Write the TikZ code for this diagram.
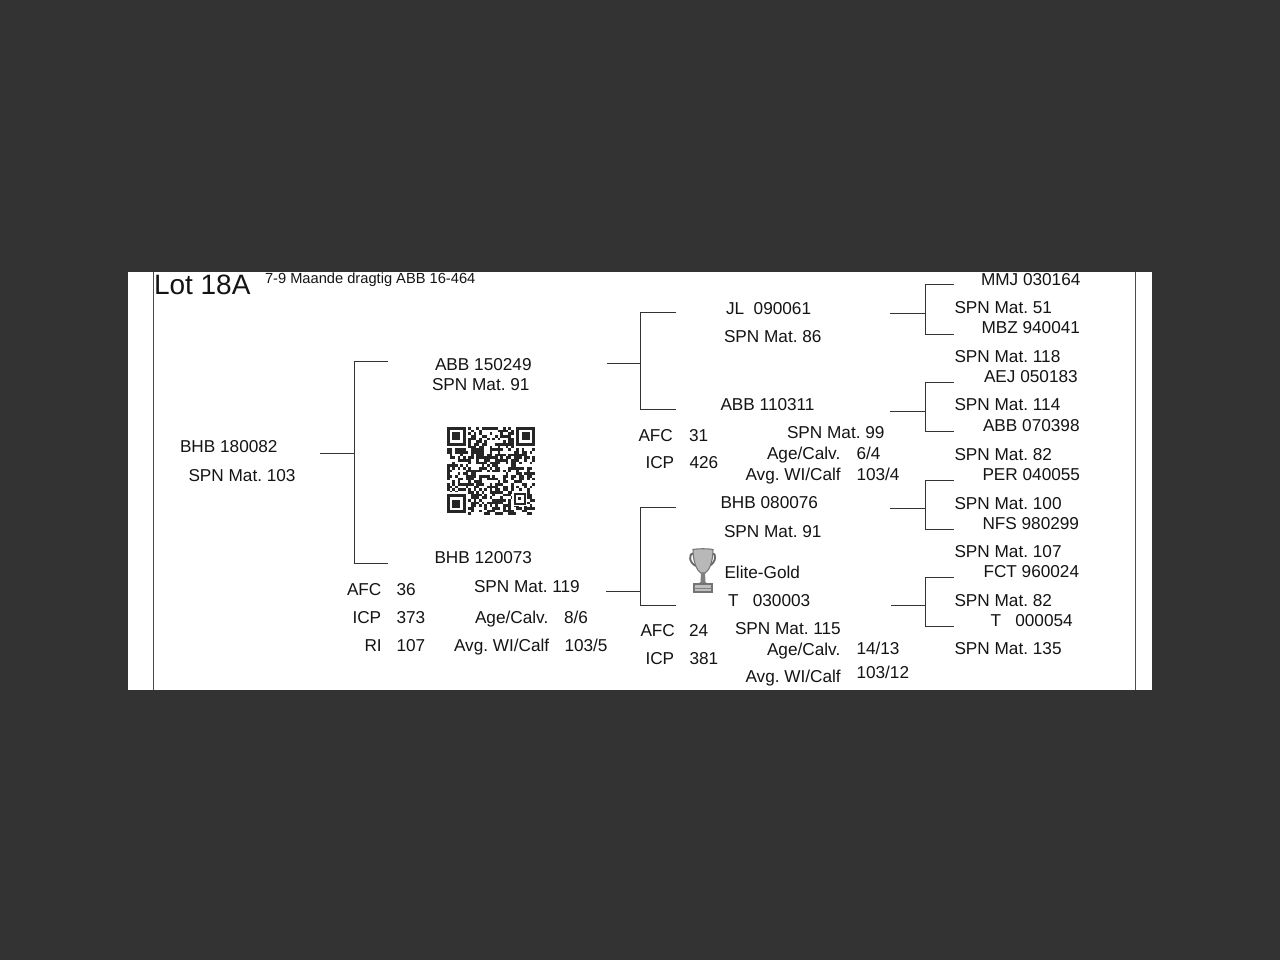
\documentclass[tikz,border=0pt]{standalone}
\usepackage{fontspec}
\setmainfont{Liberation Sans}
\newcommand{\slsh}{/}
\tikzset{
  lbl/.style={font=\fontsize{12.9}{15}\selectfont\frenchspacing,text=black!92,anchor=west,inner sep=0pt,outer sep=0pt,text height=9.3pt,text depth=0pt,yshift=0.45pt},
  conn/.style={draw=black!80,line width=0.6pt},
  edgeline/.style={draw=black!70,line width=0.6pt},
}
\newcommand{\finder}[2]{%
  \fill[white] (#1-2.7,#2-2.7) rectangle ++(24,24);
  \fill[black!85] (#1,#2) rectangle ++(18.7,18.7);
  \fill[white] (#1+2.7,#2+2.7) rectangle ++(13.3,13.3);
  \fill[black!85] (#1+5.3,#2+5.3) rectangle ++(8,8);
}
\begin{document}
\begin{tikzpicture}[x=0.75pt,y=-0.75pt]
\useasboundingbox (0,0) rectangle (1280,960);
\fill[black!80] (0,0) rectangle (1280,960);
\fill[white] (128,272) rectangle (1152,690);
\draw[edgeline] (153.6,272) -- (153.6,690);
\draw[edgeline] (1135.8,272) -- (1135.8,690);
% title
\node[lbl,font=\fontsize{21}{24}\selectfont,text height=15pt] (lot) at (154,285) {Lot 18A};
\node[lbl,font=\fontsize{11}{13}\selectfont\frenchspacing,text height=7.9pt] (note) at (265,279) {7-9 Maande dragtig ABB 16-464};
% labels
\foreach \n/\x/\y/\t in {
a1/180/447/BHB 180082, a2/188.5/475.5/SPN Mat. 103,
b1/435/364.5/ABB 150249, b2/432/384.5/SPN Mat. 91,
c1/434.5/558/BHB 120073, c2/474/586.5/SPN Mat. 119,
c3/347/589.5/AFC, c4/396.5/589.5/36, c5/352.5/617.5/ICP, c6/396.5/617.5/373, c7/364.5/646/RI, c8/396.5/646/107,
c9/475/617.5/Age\slsh Calv., c10/564/617.5/8\slsh 6, c11/454/646/Avg. WI\slsh Calf, c12/564.5/646/103\slsh 5,
d1/726/309/JL\ \ 090061, d2/724/336.5/SPN Mat. 86,
e1/720.5/405/ABB 110311, e2/787/432.5/SPN Mat. 99,
e3/638.5/435.5/AFC, e4/689/435.5/31, e5/645.5/463/ICP, e6/689.5/463/426,
e7/767/454/Age\slsh Calv., e8/856.5/454/6\slsh 4, e9/745.5/475/Avg. WI\slsh Calf, e10/856.5/475/103\slsh 4,
f1/720.5/502.5/BHB 080076, f2/724/531.5/SPN Mat. 91,
g0/724.5/572.5/Elite-Gold, g1/728/600.5/T\ \ \ 030003, g2/735/628.5/SPN Mat. 115,
g3/640.5/630.5/AFC, g4/689/630.5/24, g5/645.5/659/ICP, g6/689.5/659/381,
g7/767/649.5/Age\slsh Calv., g8/856.5/648.5/14\slsh 13, g9/745.5/677/Avg. WI\slsh Calf, g10/856.5/672.5/103\slsh 12,
h1/981/280/MMJ 030164, h2/954.5/308/SPN Mat. 51, h3/981.5/328/MBZ 940041, h4/954.5/356.5/SPN Mat. 118,
i1/984/376.5/AEJ 050183, i2/954.5/405/SPN Mat. 114, i3/983/426/ABB 070398, i4/954.5/455/SPN Mat. 82,
j1/982.5/474.5/PER 040055, j2/954.5/503.5/SPN Mat. 100, j3/982.5/524/NFS 980299, j4/954.5/552/SPN Mat. 107,
k1/983.5/572/FCT 960024, k2/954.5/600.5/SPN Mat. 82, k3/990.5/621/T\ \ \ 000054, k4/954.5/648.5/SPN Mat. 135}
{\node[lbl] (\n) at (\x,\y) {\t};}
% connector anchors
\foreach \n/\x/\y in {
A/320/453, Aj/354/453, At/354/361, Ab/354/563, Ate/388/361, Abe/388/563,
B/607/363, Bj/640.5/363, Bt/640.5/312, Bb/640.5/409, Bte/676/312, Bbe/676/409,
C/606/591, Cj/640.5/591, Ct/640.5/507, Cb/640.5/605, Cte/676/507, Cbe/676/605,
D/890/313, Dj/925.5/313, Dt/925.5/284.5, Db/925.5/334, Dte/954/284.5, Dbe/954/334,
E/890/411, Ej/925.5/411, Et/925.5/382, Eb/925.5/431, Ete/954/382, Ebe/954/431,
F/890/508, Fj/925.5/508, Ft/925.5/480, Fb/925.5/529, Fte/954/480, Fbe/954/529,
G/891/605, Gj/925.5/605, Gt/925.5/577, Gb/925.5/626, Gte/954/577, Gbe/954/626}
{\coordinate (\n) at (\x,\y);}
\foreach \p in {A,B,C,D,E,F,G}{
  \draw[conn] (\p) -- (\p j);
  \draw[conn] (\p te) -- (\p t) -- (\p b) -- (\p be);
}
% QR code
\begin{scope}
\pgfmathsetseed{18464}
\foreach \i in {0,...,32}{\foreach \j in {0,...,32}{
  \pgfmathparse{rnd<0.5?1:0}
  \ifnum\pgfmathresult=1\relax
    \fill[black!85] (447+\i*2.667,427+\j*2.667) rectangle ++(2.75,2.75);
  \fi
}}
\finder{447}{427}
\finder{516.3}{427}
\finder{447}{494.3}
\fill[white] (512,491) rectangle ++(15,15);
\fill[black!85] (513.5,492.5) rectangle ++(12,12);
\fill[white] (515.5,494.5) rectangle ++(8,8);
\fill[black!85] (518,497) rectangle ++(3,3);
\end{scope}
% trophy
\begin{scope}
\draw[black!60,line width=1.4pt] (694,553) .. controls (688,553) and (689,563) .. (696,566);
\draw[black!60,line width=1.4pt] (712,553) .. controls (717,553) and (716,563) .. (709,566);
\fill[black!28,draw=black!55,line width=0.8pt] (693,549.5) .. controls (698,548.5) and (708,548.5) .. (713,549.5) .. controls (713,562) and (709,571) .. (705,573) -- (701,573) .. controls (697,571) and (693,562) .. (693,549.5) -- cycle;
\fill[black!50] (701,573) -- (705,573) -- (705.5,582) -- (708,584) -- (698,584) -- (700.5,582) -- cycle;
\fill[black!25,draw=black!55,line width=0.8pt] (694,584) rectangle (712,592);
\draw[black!50,line width=0.5pt] (694,588) -- (712,588);
\end{scope}
\end{tikzpicture}
\end{document}
